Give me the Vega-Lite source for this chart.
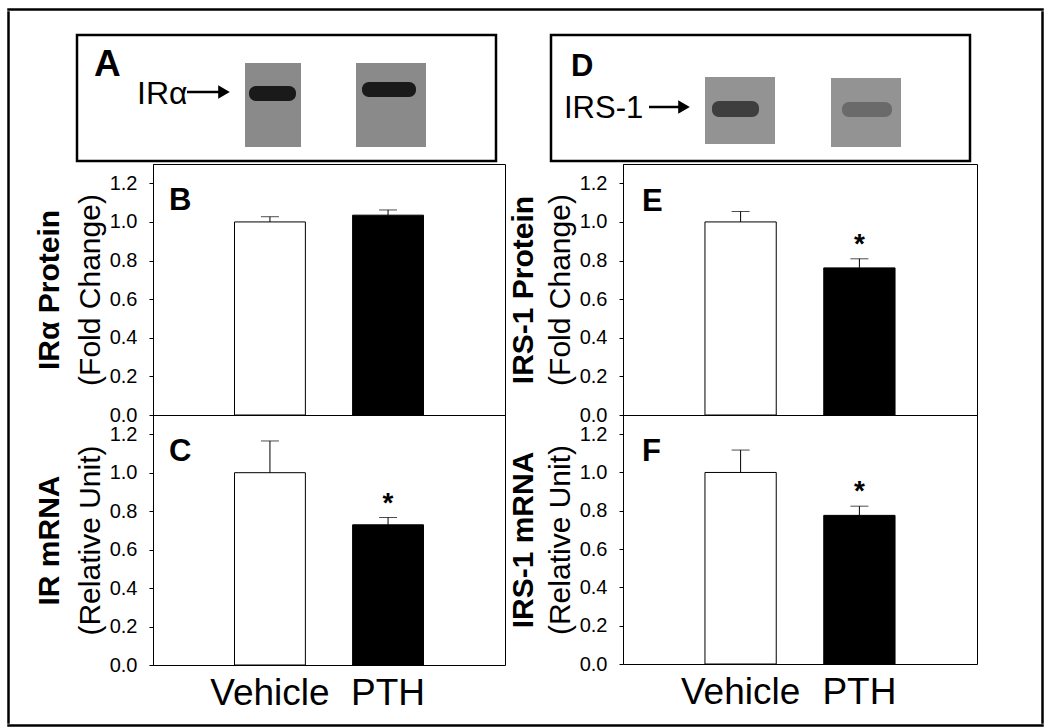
{
  "$schema": "https://vega.github.io/schema/vega-lite/v6.json",
  "padding": {"left": 7, "top": 8, "right": 0, "bottom": 0},
  "background": "white",
  "spacing": 0,
  "config": {
    "font": "Liberation Sans",
    "view": {"stroke": null},
    "axis": {"labelFont": "Liberation Sans", "titleFont": "Liberation Sans", "labelColor": "black", "titleColor": "black", "domainColor": "black", "tickColor": "black", "grid": false},
    "title": {"font": "Liberation Sans", "color": "black", "fontWeight": "bold", "fontSize": 31, "anchor": "start", "frame": "group", "baseline": "alphabetic"}
  },
  "datasets": {
    "bars": [
      {"panel": "B", "group": "Vehicle", "mean": 1.0, "err_hi": 1.027, "sig": false},
      {"panel": "B", "group": "PTH", "mean": 1.035, "err_hi": 1.062, "sig": false},
      {"panel": "C", "group": "Vehicle", "mean": 1.0, "err_hi": 1.165, "sig": false},
      {"panel": "C", "group": "PTH", "mean": 0.729, "err_hi": 0.767, "sig": true},
      {"panel": "E", "group": "Vehicle", "mean": 1.0, "err_hi": 1.054, "sig": false},
      {"panel": "E", "group": "PTH", "mean": 0.762, "err_hi": 0.809, "sig": true},
      {"panel": "F", "group": "Vehicle", "mean": 1.0, "err_hi": 1.117, "sig": false},
      {"panel": "F", "group": "PTH", "mean": 0.776, "err_hi": 0.824, "sig": true}
    ],
    "blots": [
      {"panel": "A", "lane": "Vehicle", "part": "lane", "shade": "laneA", "x0": 168, "x1": 224, "y0": 28, "y1": 112},
      {"panel": "A", "lane": "PTH", "part": "lane", "shade": "laneA", "x0": 279, "x1": 349, "y0": 28, "y1": 112},
      {"panel": "A", "lane": "Vehicle", "part": "band", "shade": "strong", "x0": 172, "x1": 219, "y0": 51, "y1": 66},
      {"panel": "A", "lane": "PTH", "part": "band", "shade": "strong", "x0": 285, "x1": 339, "y0": 47, "y1": 62},
      {"panel": "D", "lane": "Vehicle", "part": "lane", "shade": "laneD", "x0": 154, "x1": 224, "y0": 42, "y1": 109},
      {"panel": "D", "lane": "PTH", "part": "lane", "shade": "laneD", "x0": 280, "x1": 350, "y0": 43, "y1": 112},
      {"panel": "D", "lane": "Vehicle", "part": "band", "shade": "medium", "x0": 161, "x1": 208, "y0": 66, "y1": 82},
      {"panel": "D", "lane": "PTH", "part": "band", "shade": "weak", "x0": 291, "x1": 341, "y0": 67, "y1": 82}
    ],
    "blotText": [
      {"panel": "A", "role": "letter", "text": "A", "x": 17, "y": 41},
      {"panel": "A", "role": "label", "text": "IRα", "x": 60, "y": 69},
      {"panel": "D", "role": "letter", "text": "D", "x": 20, "y": 41},
      {"panel": "D", "role": "label", "text": "IRS-1", "x": 13, "y": 83}
    ],
    "arrows": [
      {"panel": "A", "x0": 110, "x1": 147, "y": 57},
      {"panel": "D", "x0": 98, "x1": 133, "y": 72}
    ],
    "empty": []
  },
  "vconcat": [
    {"width": 1035, "height": 1, "view": {"stroke": "black", "strokeWidth": 1.5}, "data": {"name": "empty"}, "mark": {"type": "text", "text": ""}, "encoding": {}},
    {
      "spacing": 0,
      "hconcat": [
        {"width": 1, "height": 711, "view": {"stroke": "black", "strokeWidth": 1.5}, "data": {"name": "empty"}, "mark": {"type": "text", "text": ""}, "encoding": {}},
        {"width": 22, "height": 1, "data": {"name": "empty"}, "mark": {"type": "text", "text": ""}, "encoding": {}},
        {
          "spacing": 0,
          "vconcat": [
            {"width": 1, "height": 21, "data": {"name": "empty"}, "mark": {"type": "text", "text": ""}, "encoding": {}},
            {
              "spacing": 0,
              "hconcat": [
                {"width": 43, "height": 1, "data": {"name": "empty"}, "mark": {"type": "text", "text": ""}, "encoding": {}},
                {
                  "width": 419, "height": 126,
                  "view": {"stroke": "black", "strokeWidth": 2.5},
                  "layer": [
                    {"data": {"name": "blots"}, "transform": [{"filter": "datum.panel === 'A' && datum.part === 'lane'"}],
                     "mark": {"type": "rect"},
                     "encoding": {
                       "x": {"field": "x0", "type": "quantitative", "scale": {"domain": [0, 419], "nice": false, "zero": false}, "axis": null},
                       "x2": {"field": "x1"},
                       "y": {"field": "y0", "type": "quantitative", "scale": {"domain": [0, 126], "nice": false, "zero": false, "reverse": true}, "axis": null},
                       "y2": {"field": "y1"},
                       "color": {"field": "shade", "type": "nominal", "scale": {"domain": ["laneA", "laneD", "strong", "medium", "weak"], "range": ["#8a8a8a", "#939393", "#1a1a1a", "#3e3e3e", "#6a6a6a"]}, "legend": null}
                     }},
                    {"data": {"name": "blots"}, "transform": [{"filter": "datum.panel === 'A' && datum.part === 'band'"}],
                     "mark": {"type": "rect", "cornerRadius": 7},
                     "encoding": {
                       "x": {"field": "x0", "type": "quantitative"}, "x2": {"field": "x1"},
                       "y": {"field": "y0", "type": "quantitative"}, "y2": {"field": "y1"},
                       "color": {"field": "shade", "type": "nominal", "legend": null}
                     }},
                    {"data": {"name": "blotText"}, "transform": [{"filter": "datum.panel === 'A' && datum.role === 'letter'"}],
                     "mark": {"type": "text", "align": "left", "baseline": "alphabetic", "fontSize": 37, "fontWeight": "bold", "color": "black"},
                     "encoding": {"x": {"field": "x", "type": "quantitative"}, "y": {"field": "y", "type": "quantitative"}, "text": {"field": "text"}}},
                    {"data": {"name": "blotText"}, "transform": [{"filter": "datum.panel === 'A' && datum.role === 'label'"}],
                     "mark": {"type": "text", "align": "left", "baseline": "alphabetic", "fontSize": 32, "color": "black"},
                     "encoding": {"x": {"field": "x", "type": "quantitative"}, "y": {"field": "y", "type": "quantitative"}, "text": {"field": "text"}}},
                    {"data": {"name": "arrows"}, "transform": [{"filter": "datum.panel === 'A'"}],
                     "mark": {"type": "rule", "strokeWidth": 2.5, "color": "black"},
                     "encoding": {"x": {"field": "x0", "type": "quantitative"}, "x2": {"field": "x1"}, "y": {"field": "y", "type": "quantitative"}}},
                    {"data": {"name": "arrows"}, "transform": [{"filter": "datum.panel === 'A'"}],
                     "mark": {"type": "point", "shape": "triangle-right", "filled": true, "color": "black", "opacity": 1, "size": 180},
                     "encoding": {"x": {"field": "x1", "type": "quantitative"}, "y": {"field": "y", "type": "quantitative"}}}
                  ]
                }
              ]
            },
            {
              "spacing": 0,
              "hconcat": [
                {"width": 1, "height": 1, "data": {"name": "empty"}, "mark": {"type": "text", "text": ""}, "encoding": {}},
                {
                  "spacing": 0,
                  "bounds": "flush",
                  "vconcat": [
                    {
                      "width": 352, "height": 251,
                      "view": {"stroke": "black", "strokeWidth": 1},
                      "title": {"text": "B", "offset": -53, "dx": 16},
                      "data": {"name": "bars"},
                      "transform": [{"filter": "datum.panel === 'B'"}],
                      "resolve": {"axis": {"y": "independent"}},
                      "layer": [
                        {"mark": {"type": "bar", "stroke": "black", "strokeWidth": 1},
                         "encoding": {
                           "x": {"field": "group", "type": "nominal", "sort": ["Vehicle", "PTH"], "scale": {"paddingInner": 0.4, "paddingOuter": 0.69}, "axis": null},
                           "y": {"field": "mean", "type": "quantitative", "scale": {"domain": [0, 1.3], "nice": false},
                                 "axis": {"orient": "left", "values": [0, 0.2, 0.4, 0.6, 0.8, 1.0, 1.2], "format": ".1f", "labelFontSize": 20, "tickSize": 4, "labelPadding": 12, "title": "(Fold Change)", "titleFontSize": 30, "titleFontWeight": "normal", "titlePadding": 4}},
                           "fill": {"field": "group", "type": "nominal", "scale": {"domain": ["Vehicle", "PTH"], "range": ["white", "black"]}, "legend": null}
                         }},
                        {"mark": {"type": "rule", "color": "black", "strokeWidth": 1},
                         "encoding": {
                           "x": {"field": "group", "type": "nominal", "sort": ["Vehicle", "PTH"]},
                           "y": {"field": "mean", "type": "quantitative", "scale": {"domain": [0, 1.3], "nice": false},
                                 "axis": {"orient": "left", "labels": false, "ticks": false, "domain": false, "title": "IRα Protein", "titleFontSize": 30, "titleFontWeight": "bold", "titlePadding": 89}},
                           "y2": {"field": "err_hi"}
                         }},
                        {"mark": {"type": "tick", "color": "black", "thickness": 1, "size": 18},
                         "encoding": {
                           "x": {"field": "group", "type": "nominal", "sort": ["Vehicle", "PTH"]},
                           "y": {"field": "err_hi", "type": "quantitative", "axis": null}
                         }},
                        {"transform": [{"filter": "datum.sig"}],
                         "mark": {"type": "text", "text": "*", "fontSize": 28, "fontWeight": "bold", "baseline": "alphabetic", "dy": -6, "color": "black"},
                         "encoding": {
                           "x": {"field": "group", "type": "nominal", "sort": ["Vehicle", "PTH"]},
                           "y": {"field": "err_hi", "type": "quantitative", "axis": null}
                         }}
                      ]
                    },
                    {
                      "width": 352, "height": 250,
                      "view": {"stroke": "black", "strokeWidth": 1},
                      "title": {"text": "C", "offset": -53, "dx": 16},
                      "data": {"name": "bars"},
                      "transform": [{"filter": "datum.panel === 'C'"}],
                      "resolve": {"axis": {"y": "independent"}},
                      "layer": [
                        {"mark": {"type": "bar", "stroke": "black", "strokeWidth": 1},
                         "encoding": {
                           "x": {"field": "group", "type": "nominal", "sort": ["Vehicle", "PTH"], "scale": {"paddingInner": 0.4, "paddingOuter": 0.69},
                                 "axis": {"title": null, "ticks": false, "domain": false, "labelAngle": 0, "labelFontSize": 37, "labelPadding": 10}},
                           "y": {"field": "mean", "type": "quantitative", "scale": {"domain": [0, 1.3], "nice": false},
                                 "axis": {"orient": "left", "values": [0, 0.2, 0.4, 0.6, 0.8, 1.0, 1.2], "format": ".1f", "labelFontSize": 20, "tickSize": 4, "labelPadding": 12, "title": "(Relative Unit)", "titleFontSize": 30, "titleFontWeight": "normal", "titlePadding": 4}},
                           "fill": {"field": "group", "type": "nominal", "scale": {"domain": ["Vehicle", "PTH"], "range": ["white", "black"]}, "legend": null}
                         }},
                        {"mark": {"type": "rule", "color": "black", "strokeWidth": 1},
                         "encoding": {
                           "x": {"field": "group", "type": "nominal", "sort": ["Vehicle", "PTH"]},
                           "y": {"field": "mean", "type": "quantitative", "scale": {"domain": [0, 1.3], "nice": false},
                                 "axis": {"orient": "left", "labels": false, "ticks": false, "domain": false, "title": "IR mRNA", "titleFontSize": 30, "titleFontWeight": "bold", "titlePadding": 89}},
                           "y2": {"field": "err_hi"}
                         }},
                        {"mark": {"type": "tick", "color": "black", "thickness": 1, "size": 18},
                         "encoding": {
                           "x": {"field": "group", "type": "nominal", "sort": ["Vehicle", "PTH"]},
                           "y": {"field": "err_hi", "type": "quantitative", "axis": null}
                         }},
                        {"transform": [{"filter": "datum.sig"}],
                         "mark": {"type": "text", "text": "*", "fontSize": 28, "fontWeight": "bold", "baseline": "alphabetic", "dy": -6, "color": "black"},
                         "encoding": {
                           "x": {"field": "group", "type": "nominal", "sort": ["Vehicle", "PTH"]},
                           "y": {"field": "err_hi", "type": "quantitative", "axis": null}
                         }}
                      ]
                    }
                  ]
                }
              ]
            }
          ]
        },
        {
          "spacing": 0,
          "vconcat": [
            {"width": 1, "height": 21, "data": {"name": "empty"}, "mark": {"type": "text", "text": ""}, "encoding": {}},
            {
              "spacing": 0,
              "hconcat": [
                {"width": 43, "height": 1, "data": {"name": "empty"}, "mark": {"type": "text", "text": ""}, "encoding": {}},
                {
                  "width": 419, "height": 126,
                  "view": {"stroke": "black", "strokeWidth": 2.5},
                  "layer": [
                    {"data": {"name": "blots"}, "transform": [{"filter": "datum.panel === 'D' && datum.part === 'lane'"}],
                     "mark": {"type": "rect"},
                     "encoding": {
                       "x": {"field": "x0", "type": "quantitative", "scale": {"domain": [0, 419], "nice": false, "zero": false}, "axis": null},
                       "x2": {"field": "x1"},
                       "y": {"field": "y0", "type": "quantitative", "scale": {"domain": [0, 126], "nice": false, "zero": false, "reverse": true}, "axis": null},
                       "y2": {"field": "y1"},
                       "color": {"field": "shade", "type": "nominal", "scale": {"domain": ["laneA", "laneD", "strong", "medium", "weak"], "range": ["#8a8a8a", "#939393", "#1a1a1a", "#3e3e3e", "#6a6a6a"]}, "legend": null}
                     }},
                    {"data": {"name": "blots"}, "transform": [{"filter": "datum.panel === 'D' && datum.part === 'band'"}],
                     "mark": {"type": "rect", "cornerRadius": 7},
                     "encoding": {
                       "x": {"field": "x0", "type": "quantitative"}, "x2": {"field": "x1"},
                       "y": {"field": "y0", "type": "quantitative"}, "y2": {"field": "y1"},
                       "color": {"field": "shade", "type": "nominal", "legend": null}
                     }},
                    {"data": {"name": "blotText"}, "transform": [{"filter": "datum.panel === 'D' && datum.role === 'letter'"}],
                     "mark": {"type": "text", "align": "left", "baseline": "alphabetic", "fontSize": 31, "fontWeight": "bold", "color": "black"},
                     "encoding": {"x": {"field": "x", "type": "quantitative"}, "y": {"field": "y", "type": "quantitative"}, "text": {"field": "text"}}},
                    {"data": {"name": "blotText"}, "transform": [{"filter": "datum.panel === 'D' && datum.role === 'label'"}],
                     "mark": {"type": "text", "align": "left", "baseline": "alphabetic", "fontSize": 31, "color": "black"},
                     "encoding": {"x": {"field": "x", "type": "quantitative"}, "y": {"field": "y", "type": "quantitative"}, "text": {"field": "text"}}},
                    {"data": {"name": "arrows"}, "transform": [{"filter": "datum.panel === 'D'"}],
                     "mark": {"type": "rule", "strokeWidth": 2.5, "color": "black"},
                     "encoding": {"x": {"field": "x0", "type": "quantitative"}, "x2": {"field": "x1"}, "y": {"field": "y", "type": "quantitative"}}},
                    {"data": {"name": "arrows"}, "transform": [{"filter": "datum.panel === 'D'"}],
                     "mark": {"type": "point", "shape": "triangle-right", "filled": true, "color": "black", "opacity": 1, "size": 180},
                     "encoding": {"x": {"field": "x1", "type": "quantitative"}, "y": {"field": "y", "type": "quantitative"}}}
                  ]
                }
              ]
            },
            {
              "spacing": 0,
              "hconcat": [
                {"width": 1, "height": 1, "data": {"name": "empty"}, "mark": {"type": "text", "text": ""}, "encoding": {}},
                {
                  "spacing": 0,
                  "bounds": "flush",
                  "vconcat": [
                    {
                      "width": 354, "height": 251,
                      "view": {"stroke": "black", "strokeWidth": 1},
                      "title": {"text": "E", "offset": -54, "dx": 19},
                      "data": {"name": "bars"},
                      "transform": [{"filter": "datum.panel === 'E'"}],
                      "resolve": {"axis": {"y": "independent"}},
                      "layer": [
                        {"mark": {"type": "bar", "stroke": "black", "strokeWidth": 1},
                         "encoding": {
                           "x": {"field": "group", "type": "nominal", "sort": ["Vehicle", "PTH"], "scale": {"paddingInner": 0.4, "paddingOuter": 0.69}, "axis": null},
                           "y": {"field": "mean", "type": "quantitative", "scale": {"domain": [0, 1.3], "nice": false},
                                 "axis": {"orient": "left", "values": [0, 0.2, 0.4, 0.6, 0.8, 1.0, 1.2], "format": ".1f", "labelFontSize": 20, "tickSize": 4, "labelPadding": 12, "title": "(Fold Change)", "titleFontSize": 30, "titleFontWeight": "normal", "titlePadding": 4}},
                           "fill": {"field": "group", "type": "nominal", "scale": {"domain": ["Vehicle", "PTH"], "range": ["white", "black"]}, "legend": null}
                         }},
                        {"mark": {"type": "rule", "color": "black", "strokeWidth": 1},
                         "encoding": {
                           "x": {"field": "group", "type": "nominal", "sort": ["Vehicle", "PTH"]},
                           "y": {"field": "mean", "type": "quantitative", "scale": {"domain": [0, 1.3], "nice": false},
                                 "axis": {"orient": "left", "labels": false, "ticks": false, "domain": false, "title": "IRS-1 Protein", "titleFontSize": 30, "titleFontWeight": "bold", "titlePadding": 85}},
                           "y2": {"field": "err_hi"}
                         }},
                        {"mark": {"type": "tick", "color": "black", "thickness": 1, "size": 18},
                         "encoding": {
                           "x": {"field": "group", "type": "nominal", "sort": ["Vehicle", "PTH"]},
                           "y": {"field": "err_hi", "type": "quantitative", "axis": null}
                         }},
                        {"transform": [{"filter": "datum.sig"}],
                         "mark": {"type": "text", "text": "*", "fontSize": 28, "fontWeight": "bold", "baseline": "alphabetic", "dy": -6, "color": "black"},
                         "encoding": {
                           "x": {"field": "group", "type": "nominal", "sort": ["Vehicle", "PTH"]},
                           "y": {"field": "err_hi", "type": "quantitative", "axis": null}
                         }}
                      ]
                    },
                    {
                      "width": 354, "height": 249,
                      "view": {"stroke": "black", "strokeWidth": 1},
                      "title": {"text": "F", "offset": -53, "dx": 19},
                      "data": {"name": "bars"},
                      "transform": [{"filter": "datum.panel === 'F'"}],
                      "resolve": {"axis": {"y": "independent"}},
                      "layer": [
                        {"mark": {"type": "bar", "stroke": "black", "strokeWidth": 1},
                         "encoding": {
                           "x": {"field": "group", "type": "nominal", "sort": ["Vehicle", "PTH"], "scale": {"paddingInner": 0.4, "paddingOuter": 0.69},
                                 "axis": {"title": null, "ticks": false, "domain": false, "labelAngle": 0, "labelFontSize": 37, "labelPadding": 10}},
                           "y": {"field": "mean", "type": "quantitative", "scale": {"domain": [0, 1.3], "nice": false},
                                 "axis": {"orient": "left", "values": [0, 0.2, 0.4, 0.6, 0.8, 1.0, 1.2], "format": ".1f", "labelFontSize": 20, "tickSize": 4, "labelPadding": 12, "title": "(Relative Unit)", "titleFontSize": 30, "titleFontWeight": "normal", "titlePadding": 4}},
                           "fill": {"field": "group", "type": "nominal", "scale": {"domain": ["Vehicle", "PTH"], "range": ["white", "black"]}, "legend": null}
                         }},
                        {"mark": {"type": "rule", "color": "black", "strokeWidth": 1},
                         "encoding": {
                           "x": {"field": "group", "type": "nominal", "sort": ["Vehicle", "PTH"]},
                           "y": {"field": "mean", "type": "quantitative", "scale": {"domain": [0, 1.3], "nice": false},
                                 "axis": {"orient": "left", "labels": false, "ticks": false, "domain": false, "title": "IRS-1 mRNA", "titleFontSize": 30, "titleFontWeight": "bold", "titlePadding": 85}},
                           "y2": {"field": "err_hi"}
                         }},
                        {"mark": {"type": "tick", "color": "black", "thickness": 1, "size": 18},
                         "encoding": {
                           "x": {"field": "group", "type": "nominal", "sort": ["Vehicle", "PTH"]},
                           "y": {"field": "err_hi", "type": "quantitative", "axis": null}
                         }},
                        {"transform": [{"filter": "datum.sig"}],
                         "mark": {"type": "text", "text": "*", "fontSize": 28, "fontWeight": "bold", "baseline": "alphabetic", "dy": -6, "color": "black"},
                         "encoding": {
                           "x": {"field": "group", "type": "nominal", "sort": ["Vehicle", "PTH"]},
                           "y": {"field": "err_hi", "type": "quantitative", "axis": null}
                         }}
                      ]
                    }
                  ]
                }
              ]
            }
          ]
        },
        {"width": 63, "height": 1, "data": {"name": "empty"}, "mark": {"type": "text", "text": ""}, "encoding": {}},
        {"width": 1, "height": 711, "view": {"stroke": "black", "strokeWidth": 1.5}, "data": {"name": "empty"}, "mark": {"type": "text", "text": ""}, "encoding": {}}
      ]
    },
    {"width": 1035, "height": 1, "view": {"stroke": "black", "strokeWidth": 1.5}, "data": {"name": "empty"}, "mark": {"type": "text", "text": ""}, "encoding": {}}
  ]
}
